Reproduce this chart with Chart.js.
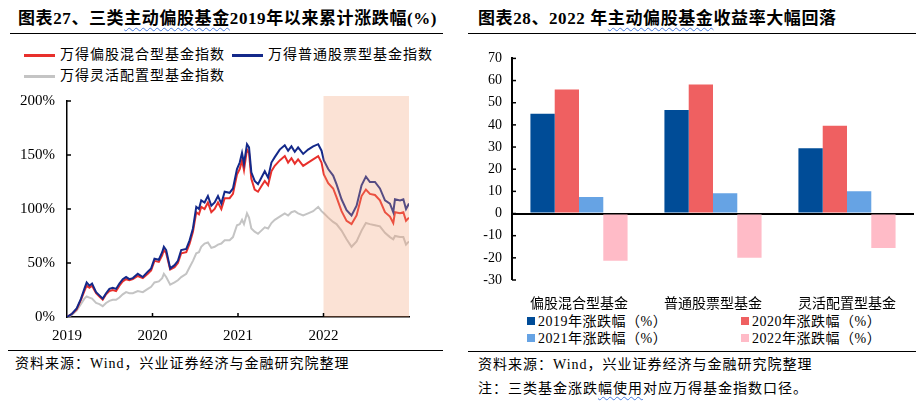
<!DOCTYPE html>
<html>
<head>
<meta charset="utf-8">
<script src="https://cdn.jsdelivr.net/npm/chart.js@4"></script>
<style>
  body { margin: 0; width: 924px; height: 404px; background: #fff; position: relative; overflow: hidden;
         font-family: "Liberation Serif", "Noto Sans CJK SC", serif; color: #000; }
  .abs { position: absolute; white-space: nowrap; }
  .title { font-size: 17px; font-weight: bold; top: 4px; letter-spacing: 0.6px; }
  .wavy { text-decoration: underline wavy #4a7ee0; text-decoration-thickness: 1px; text-underline-offset: 3px; }
  .rule { position: absolute; height: 0; border-top: 1.5px solid #000; }
  .leg { font-size: 14px; letter-spacing: 1px; }
  .lline { display: inline-block; width: 31px; height: 3px; vertical-align: middle; margin-right: 5px; }
  .sq { display: inline-block; width: 8px; height: 8px; margin-right: 3px; vertical-align: 1px; }
  .src { font-size: 14px; letter-spacing: 1px; }
</style>
</head>
<body>
<div class="abs title" style="left:18px;">图表27、三类<span class="wavy">主动偏股基金</span>2019年以来累计涨跌幅(%)</div>
<div class="rule" style="left:10px;width:433px;top:33px;"></div>
<div id="legLeft"></div>
<div style="position:absolute;left:0;top:88px;width:440px;height:252px;"><canvas id="lineChart"></canvas></div>
<div class="rule" style="left:8px;width:435px;top:350px;"></div>
<div class="abs src" style="left:15px;top:352px;">资料来源：Wind，兴业证券经济与金融研究院整理</div>

<div class="abs title" style="left:478px;">图表28、2022 年<span class="wavy">主动偏股基金</span>收益率大幅回落</div>
<div class="rule" style="left:468px;width:448px;top:33px;"></div>
<div style="position:absolute;left:464px;top:40px;width:460px;height:270px;"><canvas id="barChart"></canvas></div>
<div id="legRight"></div>
<div class="rule" style="left:468px;width:448px;top:351px;"></div>
<div class="abs src" style="left:478px;top:353px;">资料来源：Wind，兴业证券经济与金融研究院整理</div>
<div class="abs src" style="left:478px;top:377px;">注：三类基金涨跌<span class="wavy">幅使用</span>对应万得基金指数口径。</div>

<script>
// ---- left chart data (cumulative return %, x = fractional year) ----
const years = [2019.000, 2019.059, 2019.113, 2019.164, 2019.203, 2019.230, 2019.262, 2019.293, 2019.340, 2019.379,
  2019.418, 2019.457, 2019.496, 2019.535, 2019.574, 2019.613, 2019.652, 2019.691, 2019.730, 2019.770,
  2019.828, 2019.887, 2019.945, 2019.984, 2020.023, 2020.074, 2020.113, 2020.133, 2020.160, 2020.207,
  2020.258, 2020.297, 2020.336, 2020.395, 2020.434, 2020.473, 2020.512, 2020.543, 2020.570, 2020.609,
  2020.648, 2020.688, 2020.727, 2020.766, 2020.805, 2020.844, 2020.902, 2020.941, 2020.988, 2021.020,
  2021.047, 2021.070, 2021.105, 2021.129, 2021.156, 2021.195, 2021.234, 2021.273, 2021.313, 2021.352,
  2021.391, 2021.430, 2021.488, 2021.547, 2021.586, 2021.625, 2021.664, 2021.703, 2021.762, 2021.820,
  2021.879, 2021.938, 2021.977, 2022.004, 2022.055, 2022.113, 2022.152, 2022.211, 2022.270, 2022.328,
  2022.387, 2022.445, 2022.496, 2022.543, 2022.602, 2022.660, 2022.719, 2022.777, 2022.816, 2022.836,
  2022.895, 2022.934, 2022.965, 2023.000];

const mixedIndex = [0, 3, 7, 16, 24, 29, 27, 29, 22, 19, 16, 21, 24, 25, 24, 29, 33, 35, 34, 35,
  38, 36, 40, 43, 52, 51, 57, 62, 59, 44, 46, 50, 59, 60, 68, 79, 97, 95, 102, 100,
  106, 97, 100, 106, 100, 110, 110, 114, 132, 137, 145, 136, 155, 152, 128, 118, 116, 121, 126, 122,
  135, 140, 145, 149, 143, 147, 142, 146, 140, 143, 146, 149, 143, 132, 124, 119, 111, 98, 89, 86,
  94, 112, 118, 114, 113, 108, 97, 93, 87, 97, 96, 97, 89, 92];

const stockIndex = [0, 3, 8, 17, 26, 32, 29, 31, 23, 20, 17, 22, 26, 27, 26, 31, 35, 37, 35, 36,
  40, 37, 42, 45, 54, 53, 60, 65, 62, 45, 48, 52, 62, 63, 71, 82, 102, 100, 108, 106,
  112, 103, 106, 112, 105, 116, 115, 119, 137, 143, 152, 142, 160, 157, 134, 126, 123, 129, 135, 129,
  143, 148, 155, 159, 154, 158, 153, 157, 151, 155, 158, 160, 154, 145, 137, 131, 123, 109, 99, 94,
  103, 122, 130, 125, 125, 119, 108, 105, 97, 109, 108, 109, 100, 105];

const flexIndex = [0, 2, 6, 12, 17, 19, 18, 17, 13, 12, 10, 13, 15, 16, 16, 18, 21, 23, 22, 22,
  24, 23, 26, 28, 32, 33, 36, 40, 37, 30, 32, 34, 37, 40, 46, 52, 59, 60, 65, 68,
  69, 64, 65, 67, 68, 71, 71, 74, 85, 86, 90, 86, 96, 92, 82, 79, 77, 80, 83, 82,
  87, 90, 93, 96, 94, 97, 98, 96, 94, 96, 98, 102, 98, 96, 92, 88, 86, 80, 72, 65,
  70, 80, 87, 86, 85, 84, 78, 74, 72, 75, 74, 74, 67, 70];

const lineNames = ['万得偏股混合型基金指数', '万得普通股票型基金指数', '万得灵活配置型基金指数'];
const yearTicks = [2019, 2020, 2021, 2022];
const pctTicks = [0, 50, 100, 150, 200];
const shadeFrom = 2022, shadeTo = 2023;

// ---- right chart data ----
const fundTypes = ['偏股混合型基金', '普通股票型基金', '灵活配置型基金'];
const yearLabels = ['2019年涨跌幅（%）', '2020年涨跌幅（%）', '2021年涨跌幅（%）', '2022年涨跌幅（%）'];
const ret2019 = [45, 46.7, 29.5];
const ret2020 = [56, 58.2, 39.6];
const ret2021 = [7.4, 9.1, 10.0];
const ret2022 = [-21.3, -20.0, -15.6];

const lineColors = ['#e8302c', '#14298a', '#c4c4c4'];
const barColors = ['#004c97', '#ef6061', '#66a3e4', '#ffbbc7'];
const tickFont = { family: '"Liberation Serif", "Noto Sans CJK SC", serif', size: 15 };
const barTickFont = { family: '"Liberation Serif", "Noto Sans CJK SC", serif', size: 14 };
const cjkFont = { family: '"Noto Sans CJK SC", sans-serif', size: 14 };

// legends (html)
const legLeft = document.getElementById('legLeft');
const legPos = [[24, 43], [232, 43], [24, 64]];
lineNames.forEach((n, i) => {
    const d = document.createElement('div');
    d.className = 'abs leg';
    d.style.left = legPos[i][0] + 'px';
    d.style.top = legPos[i][1] + 'px';
    d.innerHTML = `<span class="lline" style="background:${lineColors[i]}"></span>${n}`;
    legLeft.appendChild(d);
});
const legRight = document.getElementById('legRight');
const legPos2 = [[527, 310], [741, 310], [527, 327], [741, 327]];
yearLabels.forEach((n, i) => {
    const d = document.createElement('div');
    d.className = 'abs leg';
    d.style.left = legPos2[i][0] + 'px';
    d.style.top = legPos2[i][1] + 'px';
    d.style.letterSpacing = '0.5px';
    d.innerHTML = `<span class="sq" style="background:${barColors[i]}"></span>${n}`;
    legRight.appendChild(d);
});

// small inward tick marks drawn from the scales
function innerTicks(scaleId, values, len, vertical) {
    return chart => {
        const s = chart.scales[scaleId];
        const a = chart.chartArea;
        const ctx = chart.ctx;
        ctx.save();
        ctx.strokeStyle = '#000';
        ctx.lineWidth = 1.5;
        values.forEach(v => {
            const p = s.getPixelForValue(v);
            ctx.beginPath();
            if (vertical) { ctx.moveTo(a.left, p); ctx.lineTo(a.left + len, p); }
            else { ctx.moveTo(p, a.bottom); ctx.lineTo(p, a.bottom - len); }
            ctx.stroke();
        });
        ctx.restore();
    };
}

const shadePlugin = {
    id: 'shade',
    afterDatasetsDraw(chart) {
        const x = chart.scales.x, a = chart.chartArea, ctx = chart.ctx;
        const x0 = x.getPixelForValue(shadeFrom), x1 = x.getPixelForValue(shadeTo);
        ctx.save();
        ctx.fillStyle = 'rgba(241,158,115,0.3)';
        ctx.fillRect(x0, a.top - 5, x1 - x0, a.bottom - a.top + 5);
        ctx.restore();
    },
    afterDraw(chart) {
        innerTicks('y', pctTicks.slice(1), 4, true)(chart);
        innerTicks('x', yearTicks.slice(1), 4, false)(chart);
    }
};

const toXY = arr => arr.map((v, i) => ({ x: years[i], y: v }));

new Chart(document.getElementById('lineChart'), {
    type: 'line',
    data: {
        datasets: [
            { label: lineNames[0], data: toXY(mixedIndex), borderColor: lineColors[0], order: 1 },
            { label: lineNames[1], data: toXY(stockIndex), borderColor: lineColors[1], order: 0 },
            { label: lineNames[2], data: toXY(flexIndex), borderColor: lineColors[2], order: 2 }
        ]
    },
    options: {
        animation: false,
        responsive: true,
        maintainAspectRatio: false,
        elements: { point: { radius: 0 }, line: { borderWidth: 2, tension: 0 } },
        layout: { padding: { top: 7, right: 31, left: 0, bottom: 0 } },
        plugins: { legend: { display: false }, tooltip: { enabled: false } },
        scales: {
            x: {
                type: 'linear', min: 2019, max: 2023,
                afterBuildTicks: s => { s.ticks = yearTicks.map(v => ({ value: v })); },
                ticks: { color: '#000', font: tickFont, padding: 2, maxRotation: 0, callback: v => String(v) },
                grid: { display: false },
                border: { color: '#000', width: 1.5 },
                afterFit: s => { s.height = 23; }
            },
            y: {
                min: 0, max: 200,
                afterBuildTicks: s => { s.ticks = pctTicks.map(v => ({ value: v })); },
                ticks: { color: '#000', font: tickFont, padding: 4, callback: v => v + '%' },
                grid: { display: false },
                border: { color: '#000', width: 1.5 },
                afterFit: s => { s.width = 67; }
            }
        }
    },
    plugins: [shadePlugin]
});

const barTickPlugin = {
    id: 'barTicks',
    afterDraw(chart) {
        const vals = [];
        for (let v = -30; v <= 70; v += 10) vals.push(v);
        innerTicks('y', vals, 4, true)(chart);
    }
};

new Chart(document.getElementById('barChart'), {
    type: 'bar',
    data: {
        labels: fundTypes,
        datasets: [ret2019, ret2020, ret2021, ret2022].map((d, i) => ({
            label: yearLabels[i], data: d, backgroundColor: barColors[i]
        }))
    },
    options: {
        animation: false,
        responsive: true,
        maintainAspectRatio: false,
        datasets: { bar: { categoryPercentage: 0.725, barPercentage: 1 } },
        layout: { padding: { top: 13, right: 10, left: 0, bottom: 0 } },
        plugins: { legend: { display: false }, tooltip: { enabled: false } },
        scales: {
            x: {
                ticks: { color: '#000', font: cjkFont, padding: 6 },
                grid: { display: false },
                border: { display: false },
                afterFit: s => { s.height = 30; }
            },
            y: {
                min: -30, max: 70,
                ticks: { stepSize: 10, color: '#000', font: barTickFont, padding: 10 },
                grid: {
                    drawTicks: false,
                    color: c => c.tick && c.tick.value === 0 ? '#000' : 'rgba(0,0,0,0)',
                    lineWidth: c => c.tick && c.tick.value === 0 ? 2 : 0
                },
                border: { color: '#000', width: 2 },
                afterFit: s => { s.width = 48; }
            }
        }
    },
    plugins: [barTickPlugin]
});
</script>
</body>
</html>
